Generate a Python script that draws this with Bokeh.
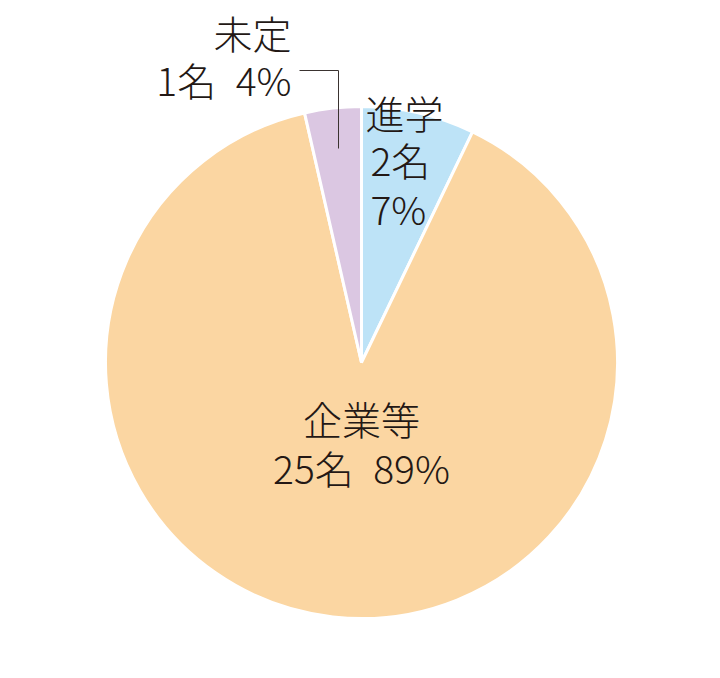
import math
from bokeh.plotting import figure
from bokeh.models import Range1d, ColumnDataSource
from bokeh.core.properties import value
from bokeh.embed import file_html
from bokeh.resources import INLINE

# data
categories = ["進学", "企業等", "未定"]
counts = [2, 25, 1]
percents = [7, 89, 4]
colors = ["#bde3f7", "#fbd6a2", "#dbc7e2"]

W, H = 704, 662
def px(x):  # screenshot x -> figure x
    return x
def py(y):  # screenshot y -> figure y
    return H - y

p = figure(width=W, height=H, output_backend="svg", toolbar_location=None,
           x_range=Range1d(0, W), y_range=Range1d(0, H), min_border=0)
p.axis.visible = False
p.grid.visible = False
p.outline_line_color = None
p.background_fill_color = "white"
p.border_fill_color = "white"

total = sum(counts)
starts, ends = [], []
cum = 0
for c in counts:
    starts.append(math.pi / 2 - 2 * math.pi * cum / total)
    cum += c
    ends.append(math.pi / 2 - 2 * math.pi * cum / total)

cx, cy, r = px(361), py(362), 256
src = ColumnDataSource(dict(start=starts, end=ends, color=colors))
p.wedge(x=cx, y=cy, radius=r, start_angle="start", end_angle="end",
        direction="clock", fill_color="color", line_color="white",
        line_width=3, source=src)

font = value("'Noto Sans CJK JP Light', 'Noto Sans CJK JP'")
tc = "#231815"
fs = "39px"
sp = "\u2002"

def label(x, y, txt, align):
    p.text(x=[px(x)], y=[py(y)], text=[txt], text_font=font, text_font_size=fs,
           text_color=tc, text_align=align, text_baseline="middle")

# 進学
label(365, 111, categories[0], "left")
label(370, 158, f"{counts[0]}名", "left")
label(370, 207, f"{percents[0]}%", "left")
# 企業等
label(361, 417, categories[1], "center")
label(361, 466, f"{counts[1]}名{sp}{percents[1]}%", "center")
# 未定
label(291, 31, categories[2], "right")
label(291, 78, f"{counts[2]}名{sp}{percents[2]}%", "right")

# leader line
p.line(x=[px(299), px(338), px(338)], y=[py(70), py(70), py(148)],
       line_color="#3a3330", line_width=1)

open("out.html", "w").write(file_html(p, INLINE))
